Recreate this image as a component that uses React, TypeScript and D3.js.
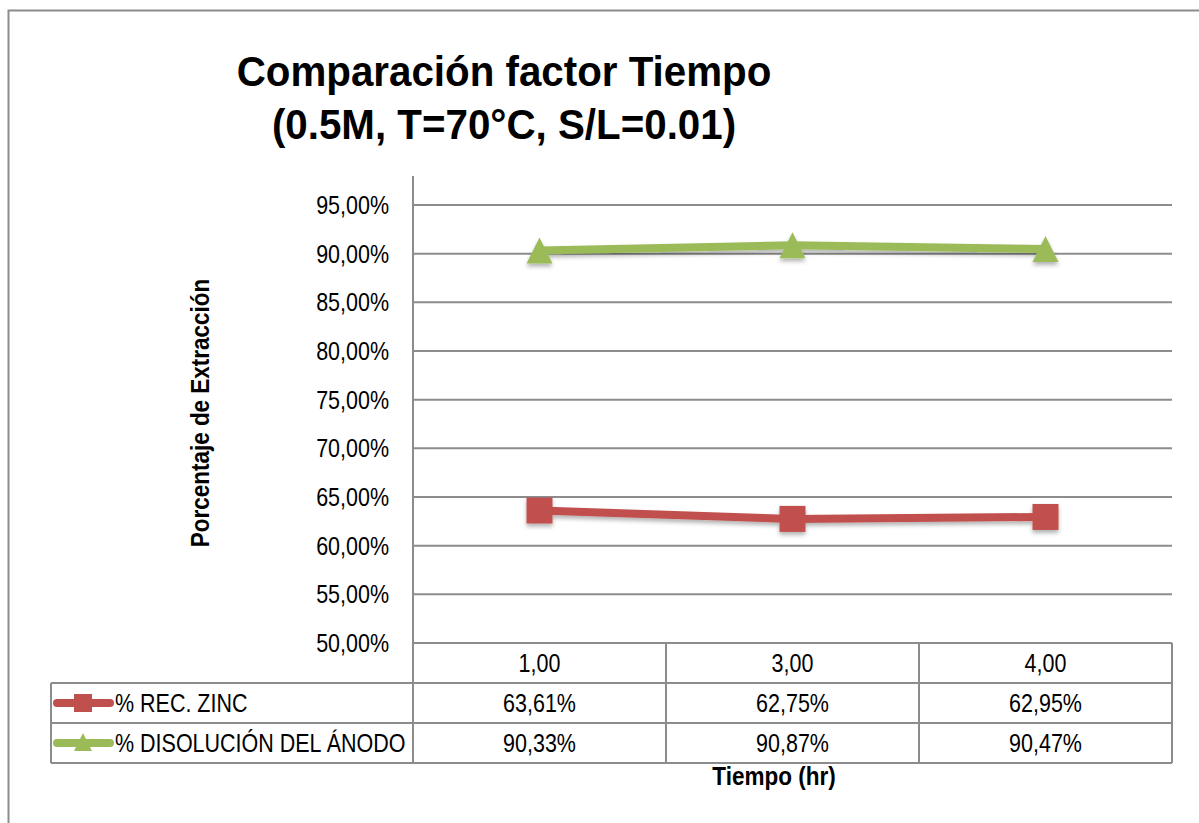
import React, { useEffect } from "react";
import * as d3 from "d3";

// values
const tiempos = ["1,00", "3,00", "4,00"];
const recZinc = [0.6361, 0.6275, 0.6295];
const disolucionAnodo = [0.9033, 0.9087, 0.9047];
const yTicks = [0.5, 0.55, 0.6, 0.65, 0.7, 0.75, 0.8, 0.85, 0.9, 0.95];
const seriesNames = ["% REC. ZINC", "% DISOLUCIÓN DEL ÁNODO"];
const seriesColors = ["#C0504D", "#9BBB59"];
const titleLines = ["Comparación factor Tiempo", "(0.5M, T=70°C, S/L=0.01)"];

const FONT = "'Liberation Sans', Arial, sans-serif";
const NARROW = 0.86; // fake Arial Narrow by squeezing Liberation Sans

const W = 1199;
const H = 823;
const plotLeft = 413;
const plotRight = 1172;
const plotTop = 176;
const plotBottom = 643;
const rowH = 40;
const tableLeft = 51;
const grid = "#8c8c8c";

const fmtPct = (v: number) => (v * 100).toFixed(2).replace(".", ",") + "%";

type TProps = {
  x: number;
  y: number;
  size?: number;
  bold?: boolean;
  anchor?: "start" | "middle" | "end";
  rotate?: number;
  sx?: number;
  children: React.ReactNode;
};

// narrow text: translate, optional rotate, then squeeze horizontally
const NText = ({ x, y, size = 25, bold, anchor = "start", rotate = 0, sx = NARROW, children }: TProps) => (
  <text
    transform={`translate(${x},${y}) rotate(${rotate}) scale(${sx},1)`}
    textAnchor={anchor}
    dy="0.36em"
    fontSize={size}
    fontWeight={bold ? "bold" : "normal"}
    fill="#000"
  >
    {children}
  </text>
);

export default function App() {
  useEffect(() => {
    document.body.style.margin = "0";
  }, []);

  const x = d3.scaleBand<string>().domain(tiempos).range([plotLeft, plotRight]);
  const y = d3.scaleLinear().domain([0.5, 0.95]).range([plotBottom, 205]);
  const cx = (t: string) => x(t)! + x.bandwidth() / 2;

  const line = d3
    .line<number>()
    .x((_, i) => cx(tiempos[i]))
    .y((d) => y(d));

  const series = [recZinc, disolucionAnodo];
  const tri = (s: number) => `M0,${-s / 2}L${s / 2},${s / 2}L${-s / 2},${s / 2}Z`;

  const marker = (k: number, mx: number, my: number, s: number, key: string) =>
    k === 0 ? (
      <rect key={key} x={mx - s / 2} y={my - s / 2} width={s} height={s} fill={seriesColors[0]} />
    ) : (
      <path key={key} d={tri(s)} transform={`translate(${mx},${my})`} fill={seriesColors[1]} />
    );

  const rows = [plotBottom, plotBottom + rowH, plotBottom + 2 * rowH, plotBottom + 3 * rowH];

  return (
    <svg width={W} height={H} style={{ display: "block", background: "#fff" }} fontFamily={FONT}>
      <defs>
        <filter id="shadow" x="-50%" y="-50%" width="200%" height="200%">
          <feDropShadow dx="0" dy="3" stdDeviation="2" floodColor="#000" floodOpacity="0.3" />
        </filter>
      </defs>
      <rect x={8.5} y={10.5} width={W} height={H} fill="#fff" stroke={grid} strokeWidth={2} />

      {/* gridlines */}
      {yTicks.map((t) => (
        <line key={t} x1={plotLeft} x2={plotRight} y1={y(t)} y2={y(t)} stroke={grid} strokeWidth={2} />
      ))}
      <line x1={plotLeft} x2={plotLeft} y1={plotTop} y2={plotBottom} stroke={grid} strokeWidth={2} />

      {/* y tick labels */}
      {yTicks.map((t) => (
        <NText key={t} x={389} y={y(t)} anchor="end">
          {fmtPct(t)}
        </NText>
      ))}

      {/* series */}
      {series.map((vals, k) => (
        <g key={k} filter="url(#shadow)">
          <path d={line(vals)!} fill="none" stroke={seriesColors[k]} strokeWidth={8} strokeLinejoin="round" />
          {vals.map((v, i) => marker(k, cx(tiempos[i]), y(v), 26, `${k}-${i}`))}
        </g>
      ))}

      {/* data table */}
      {rows.map((ry, i) => (
        <line
          key={ry}
          x1={i === 0 ? plotLeft : tableLeft}
          x2={plotRight}
          y1={ry}
          y2={ry}
          stroke={grid}
          strokeWidth={2}
        />
      ))}
      {[plotLeft, ...tiempos.map((t) => x(t)! + x.bandwidth())].map((vx) => (
        <line key={vx} x1={vx} x2={vx} y1={plotBottom} y2={rows[3]} stroke={grid} strokeWidth={2} />
      ))}
      <line x1={tableLeft} x2={tableLeft} y1={rows[1]} y2={rows[3]} stroke={grid} strokeWidth={2} />

      {tiempos.map((t) => (
        <NText key={t} x={cx(t)} y={plotBottom + rowH / 2} anchor="middle">
          {t}
        </NText>
      ))}
      {series.map((vals, k) => {
        const ry = rows[k + 1] + rowH / 2;
        return (
          <g key={k}>
            <line x1={57} x2={110} y1={ry} y2={ry} stroke={seriesColors[k]} strokeWidth={8} strokeLinecap="round" />
            {marker(k, 83, k === 0 ? ry : ry - 1, 18, `leg-${k}`)}
            <NText x={115} y={ry}>
              {seriesNames[k]}
            </NText>
            {vals.map((v, i) => (
              <NText key={i} x={cx(tiempos[i])} y={ry} anchor="middle">
                {fmtPct(v)}
              </NText>
            ))}
          </g>
        );
      })}

      {/* titles */}
      {titleLines.map((t, i) => (
        <NText key={t} x={504} y={71 + i * 53} size={42} bold anchor="middle" sx={0.96}>
          {t}
        </NText>
      ))}
      <NText x={200} y={413} anchor="middle" rotate={-90} bold sx={0.9}>
        Porcentaje  de Extracción
      </NText>
      <NText x={774} y={776} anchor="middle" bold sx={0.9}>
        Tiempo (hr)
      </NText>
    </svg>
  );
}
